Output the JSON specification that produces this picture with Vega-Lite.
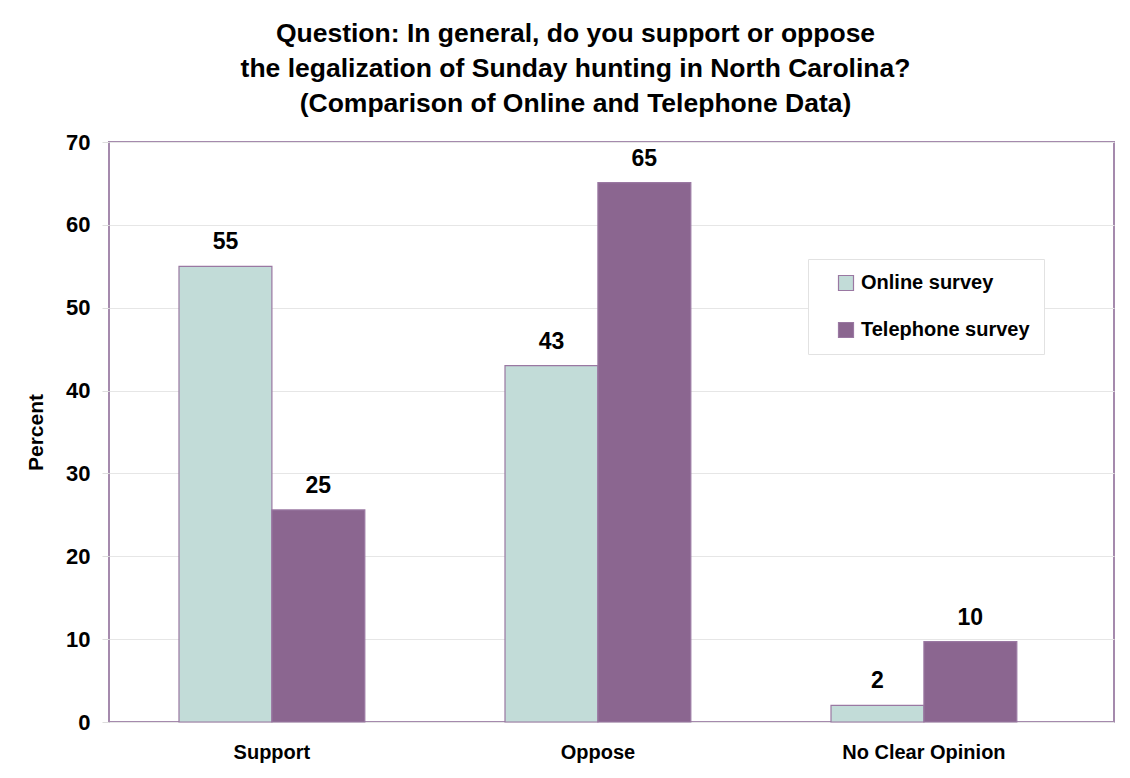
{
  "$schema": "https://vega.github.io/schema/vega-lite/v6.json",
  "width": 1005,
  "height": 580,
  "autosize": "none",
  "padding": {"left": 109, "top": 142, "right": 16, "bottom": 56},
  "background": "white",
  "title": {
    "text": ["Question: In general, do you support or oppose", "the legalization of Sunday hunting in North Carolina?", "(Comparison of Online and Telephone Data)"],
    "font": "Liberation Sans",
    "fontSize": 26.5,
    "fontWeight": "bold",
    "color": "#000000",
    "lineHeight": 35,
    "anchor": "middle",
    "dx": -36,
    "offset": 14
  },
  "data": {
    "values": [
      {"response": "Support", "survey": "Online survey", "percent": 55, "label": "55"},
      {"response": "Support", "survey": "Telephone survey", "percent": 25.6, "label": "25"},
      {"response": "Oppose", "survey": "Online survey", "percent": 43, "label": "43"},
      {"response": "Oppose", "survey": "Telephone survey", "percent": 65.1, "label": "65"},
      {"response": "No Clear Opinion", "survey": "Online survey", "percent": 2, "label": "2"},
      {"response": "No Clear Opinion", "survey": "Telephone survey", "percent": 9.7, "label": "10"}
    ]
  },
  "encoding": {
    "x": {
      "field": "response",
      "type": "nominal",
      "sort": ["Support", "Oppose", "No Clear Opinion"],
      "scale": {"paddingInner": 0.43, "paddingOuter": 0.2564, "align": 0.4187},
      "axis": {
        "title": null,
        "labelAngle": 0,
        "labelFont": "Liberation Sans",
        "labelFontSize": 20,
        "labelFontWeight": "bold",
        "labelColor": "#000000",
        "labelPadding": 20,
        "ticks": false,
        "domain": false
      }
    },
    "xOffset": {"field": "survey", "type": "nominal", "sort": ["Online survey", "Telephone survey"]},
    "y": {
      "field": "percent",
      "type": "quantitative",
      "scale": {"domain": [0, 70], "nice": false},
      "axis": {
        "title": "Percent",
        "titleFont": "Liberation Sans",
        "titleFontSize": 21,
        "titleFontWeight": "bold",
        "titleColor": "#000000",
        "titlePadding": 19,
        "values": [0, 10, 20, 30, 40, 50, 60, 70],
        "labelFont": "Liberation Sans",
        "labelFontSize": 22,
        "labelFontWeight": "bold",
        "labelColor": "#000000",
        "labelPadding": 12,
        "tickColor": "#DDDDDD",
        "tickSize": 7,
        "domain": false,
        "grid": true,
        "gridColor": "#E6E6E6",
        "gridWidth": 1
      }
    }
  },
  "layer": [
    {
      "mark": {"type": "bar", "stroke": "#9A78A2", "strokeWidth": 1.2},
      "encoding": {
        "color": {
          "field": "survey",
          "type": "nominal",
          "sort": ["Online survey", "Telephone survey"],
          "scale": {"domain": ["Online survey", "Telephone survey"], "range": ["#C2DCD8", "#8B6690"]},
          "legend": {
            "title": null,
            "orient": "none",
            "legendX": 699,
            "legendY": 117,
            "direction": "vertical",
            "symbolType": "square",
            "symbolSize": 225,
            "symbolOffset": 14,
            "symbolStrokeColor": "#9A78A2",
            "symbolStrokeWidth": 1.2,
            "labelFont": "Liberation Sans",
            "labelFontSize": 20,
            "labelFontWeight": "bold",
            "labelColor": "#000000",
            "labelOffset": 5,
            "rowPadding": 27,
            "padding": 14,
            "strokeColor": "#E2E2E2",
            "fillColor": "white",
            "labelLimit": 300
          }
        }
      }
    },
    {
      "mark": {"type": "text", "baseline": "bottom", "dy": -12, "font": "Liberation Sans", "fontSize": 23, "fontWeight": "bold", "color": "#000000"},
      "encoding": {
        "text": {"field": "label"}
      }
    }
  ],
  "config": {
    "view": {"stroke": "#A58AAD", "strokeWidth": 2}
  }
}
